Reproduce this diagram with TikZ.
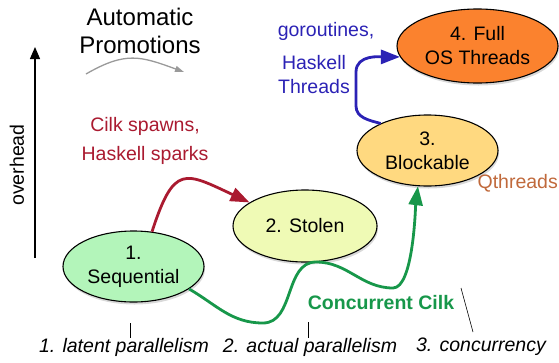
\documentclass[tikz,border=0pt]{standalone}
\usepackage{fontspec}
\setmainfont{Liberation Sans}
\usepackage{tikz}
\usetikzlibrary{shapes.geometric, arrows.meta, positioning, shadows}
\definecolor{thseq}{HTML}{B3F5BA}
\definecolor{thstolen}{HTML}{EFFAB5}
\definecolor{thblock}{HTML}{FFD980}
\definecolor{thfull}{HTML}{FB822E}
\definecolor{thred}{HTML}{AA1A30}
\definecolor{thblue}{HTML}{2B22B5}
\definecolor{thgreen}{HTML}{17974A}
\definecolor{thbrown}{HTML}{C0693B}
\definecolor{thgray}{HTML}{9A9A9A}

\begin{document}
\begin{tikzpicture}[x=1pt, y=-1pt,
    stage/.style={ellipse, draw=black, line width=1.1pt, fill=#1, inner sep=0pt,
                  align=center, font=\fontsize{19.5}{24}\selectfont,
                  drop shadow={shadow xshift=1pt, shadow yshift=-2.5pt, opacity=0.3}},
    note/.style={font=\fontsize{19.5}{24}\selectfont, align=center, text=#1},
    level/.style={font=\fontsize{19.5}{24}\selectfont\itshape},
    tick/.style={line width=0.6pt},
    promote/.style={line width=2.8pt, color=#1, -{Triangle[length=19pt, width=14pt]}}
]
\useasboundingbox (0,0) rectangle (559,362);

% the four stages
\node[stage=thseq,    minimum width=141pt, minimum height=71pt] (seq)    at (133.5,266.5) {1.\\Sequential};
\node[stage=thstolen, minimum width=144pt, minimum height=72pt] (stolen) at (305,226)     {2. Stolen};
\node[stage=thblock,  minimum width=141pt, minimum height=71pt] (block)  at (427.5,150.5) {3.\\Blockable};
\node[stage=thfull,   minimum width=161pt, minimum height=74pt] (full)   at (477.5,46)    {4. Full\\OS Threads};

% texts
\node[font=\fontsize{24}{28}\selectfont, align=center] (title) at (140,31) {Automatic\\Promotions};
\node[note=thred, font=\fontsize{19.5}{29}\selectfont] (cilk) at (145,141) {Cilk spawns,\\Haskell sparks};
\node[note=thblue] (gor) at (326,31) {goroutines,};
\node[note=thblue] (hth) at (314,75) {Haskell\\Threads};
\node[note=thbrown, anchor=east, inner sep=0pt] (qth) at (558,183) {Qthreads};
\node[font=\fontsize{19.5}{24}\selectfont\bfseries, text=thgreen] (cc) at (381,303) {Concurrent Cilk};
\node[note=black, rotate=90] (ovh) at (17,165) {overhead};
\node[level] (lvl1) at (124,347) {1. latent parallelism};
\node[level] (lvl2) at (310,347) {2. actual parallelism};
\node[level] (lvl3) at (481,347) {3. concurrency};

\draw[tick] (130,323) -- (130,338);
\draw[tick] (308,322) -- (308,338);
\draw[tick] (461,288) -- (473,332);

% overhead axis and the legend arrow
\coordinate (ovlo) at (35,258);
\coordinate (ovhi) at (35,47);
\draw[line width=1.3pt, -{Triangle[length=12pt, width=10pt]}] (ovlo) -- (ovhi);
\coordinate (pmfrom) at (86,74);
\coordinate (pmto)   at (184,72);
\draw[thgray, line width=1.3pt, -{Triangle[length=9pt, width=6pt]}]
    (pmfrom) to[out=30, in=160, looseness=1.2] (pmto);

% promotions
\coordinate (bl1) at (356,106);
\coordinate (bl2) at (356,72);
\coordinate (gr1) at (263,323);
\coordinate (gr2) at (316,262);
\coordinate (gr3) at (393,288);
\draw[promote=thred]   (seq.62) to[out=72, in=155, looseness=1.8] (stolen.157);
\draw[promote=thblue]  (block.150) to[out=165, in=-90] (bl1) -- (bl2) to[out=90, in=180] (full.188);
\draw[promote=thgreen] (seq.-22) to[out=-30, in=180] (gr1) to[out=0, in=180] (gr2)
                       to[out=0, in=180] (gr3) to[out=0, in=-97, looseness=0.5] (block.-105);
\end{tikzpicture}
\end{document}
